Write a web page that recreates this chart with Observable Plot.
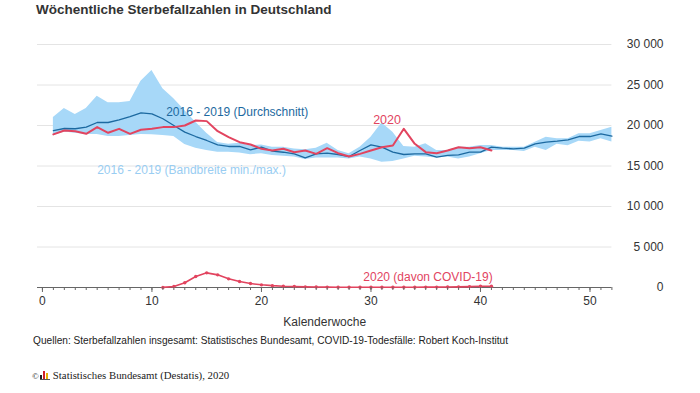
<!DOCTYPE html>
<html><head><meta charset="utf-8">
<script src="https://cdn.jsdelivr.net/npm/d3@7"></script>
<script src="https://cdn.jsdelivr.net/npm/@observablehq/plot@0.6"></script>
<style>
body{margin:0;background:#fff;font-family:"Liberation Sans",Arial,sans-serif;}
#wrap{position:relative;width:700px;height:393px;overflow:hidden;background:#fff}
#title{position:absolute;left:36px;top:2px;font-size:13.5px;font-weight:bold;color:#333;line-height:16px;white-space:nowrap}
#chart{position:absolute;left:0;top:0}
#source{position:absolute;left:33px;top:334px;font-size:10.15px;color:#222;white-space:nowrap;line-height:13px}
#copy{position:absolute;left:32px;top:369px;font-family:"Liberation Serif","Times New Roman",serif;font-size:10.8px;color:#222;white-space:nowrap;line-height:13px}
.logo{display:inline-block;width:10px;height:9px;position:relative;vertical-align:-1px;margin:0 3px 0 1px}
.logo i{position:absolute;bottom:0;width:2px}
</style></head><body>
<div id="wrap">
<div id="title">Wöchentliche Sterbefallzahlen in Deutschland</div>
<div id="chart"></div>
<div id="source">Quellen: Sterbefallzahlen insgesamt: Statistisches Bundesamt, COVID-19-Todesfälle: Robert Koch-Institut</div>
<div id="copy"><span style="font-size:9px">©</span><span class="logo"><i style="left:0;height:5px;background:#222"></i><i style="left:3px;height:9px;background:#d0202a"></i><i style="left:6px;height:7px;background:#e8b000"></i><i style="left:0;bottom:0;width:10px;height:1px;background:#555"></i></span>Statistisches Bundesamt (Destatis), 2020</div>
</div>
<script>
// Kalenderwochen
const weeks = [1,2,3,4,5,6,7,8,9,10,11,12,13,14,15,16,17,18,19,20,21,22,23,24,25,26,27,28,29,30,31,32,33,34,35,36,37,38,39,40,41,42,43,44,45,46,47,48,49,50,51,52];
// 2016 - 2019 Durchschnitt
const avg = [19380,19630,19600,19800,20370,20370,20700,21100,21560,21440,20830,20000,19180,18640,18150,17610,17410,17410,17000,17320,16830,16700,16500,16010,16500,16600,16420,16170,16910,17610,17320,16710,16420,16500,16500,16090,16300,16380,16710,16710,17320,17200,17120,17200,17740,17940,18060,18230,18640,18640,18970,18680];
// 2016 - 2019 Minimum
const minV = [18770,19200,19050,18900,18900,18640,18640,18770,18900,18850,18770,18640,17650,17200,16900,16700,16700,16600,16400,16500,16300,16200,16100,15800,16000,16000,16000,15850,16100,15850,15450,15550,15850,16200,16100,16000,16100,15850,16100,16500,16900,16900,16900,16800,17300,16900,17700,17500,18050,17950,18350,17950];
// 2016 - 2019 Maximum
const maxV = [21000,22100,21350,22100,23600,22800,22800,22950,25470,26800,24550,23300,21850,20400,19050,17900,17700,17800,17500,17600,17300,17300,17100,17000,17200,17800,16900,16500,17300,18560,20300,19180,17400,17320,17740,16910,16910,17320,17300,17530,17530,17320,17320,17320,17940,18560,18350,18350,18970,18970,19380,19790];
// 2020 (Wochen 1 - 41)
const weeks2020 = [1,2,3,4,5,6,7,8,9,10,11,12,13,14,15,16,17,18,19,20,21,22,23,24,25,26,27,28,29,30,31,32,33,34,35,36,37,38,39,40,41];
const deaths2020 = [18900,19380,19300,18970,19800,19100,19590,18970,19470,19590,19800,19800,20000,20620,20540,19300,18560,17940,17650,17120,16910,17120,16700,16910,16500,17200,16580,16170,16500,16910,17320,17530,19590,17740,16710,16580,16910,17320,17200,17320,16910];
// 2020 davon COVID-19 (Wochen 11 - 41)
const weeksCovid = [11,12,13,14,15,16,17,18,19,20,21,22,23,24,25,26,27,28,29,30,31,32,33,34,35,36,37,38,39,40,41];
const covid = [10,120,580,1360,1810,1560,1070,740,490,330,230,160,120,80,60,50,40,40,30,30,30,30,40,40,50,50,60,80,110,150,160];
// Achsen
const yTicks = [0,5000,10000,15000,20000,25000,30000];
const yTickLabels = ["0","5 000","10 000","15 000","20 000","25 000","30 000"];
const xMajor = [0,10,20,30,40,50];
const xMinor = [0,1,2,3,4,5,6,7,8,9,10,11,12,13,14,15,16,17,18,19,20,21,22,23,24,25,26,27,28,29,30,31,32,33,34,35,36,37,38,39,40,41,42,43,44,45,46,47,48,49,50,51,52];
const xDomain = [-0.45, 52];

const band = weeks.map((w,i)=>({week:w, min:minV[i], max:maxV[i], avg:avg[i]}));
const d2020 = weeks2020.map((w,i)=>({week:w, v:deaths2020[i]}));
const dCovid = weeksCovid.map((w,i)=>({week:w, v:covid[i]}));
const yt = yTicks.map((t,i)=>({t, label:yTickLabels[i]}));

const RED = "#e2445f", BLUE = "#1c69a0", BAND = "#a7d8f8", LIGHT = "#99cdf2";

const plot = Plot.plot({
  width: 700, height: 330,
  marginTop: 44, marginBottom: 43, marginLeft: 37, marginRight: 88.6,
  style: {fontFamily: '"Liberation Sans", Arial, sans-serif', fontSize: "12px", color: "#333", background: "transparent"},
  x: {domain: xDomain},
  y: {domain: [0, 30000], axis: null},
  marks: [
    Plot.ruleY(yTicks.filter(t => t > 0), {x1: xDomain[0], x2: xDomain[1], stroke: "#e4e4e4", strokeWidth: 1}),
    Plot.areaY(band, {x: "week", y1: "min", y2: "max", fill: BAND, curve: "linear"}),
    Plot.lineY(band, {x: "week", y: "avg", stroke: BLUE, strokeWidth: 1.3}),
    Plot.lineY(d2020, {x: "week", y: "v", stroke: RED, strokeWidth: 2}),
    Plot.ruleY([0], {x1: xDomain[0], x2: xDomain[1], stroke: "#666", strokeWidth: 1}),
    Plot.lineY(dCovid, {x: "week", y: "v", stroke: RED, strokeWidth: 1.6}),
    Plot.dot(dCovid, {x: "week", y: "v", r: 1.7, fill: RED}),
    Plot.axisX({ticks: xMinor, tickSize: 3, tickFormat: () => "", stroke: "#666", label: null}),
    Plot.axisX({ticks: xMajor, tickSize: 5, tickPadding: 4, stroke: "#666", fill: "#333", tickFormat: d => String(d),
      label: "Kalenderwoche", labelAnchor: "center", labelOffset: 38, labelArrow: "none"}),
    Plot.text(yt, {x: xDomain[1], y: "t", text: "label", dx: 51.6, textAnchor: "end", fill: "#333", fontSize: 12}),
    Plot.text(["2016 - 2019 (Durchschnitt)"], {x: [11.3], y: [21700], text: d => d, textAnchor: "start", fill: BLUE, fontSize: 12}),
    Plot.text(["2016 - 2019 (Bandbreite min./max.)"], {x: [5.0], y: [14440], text: d => d, textAnchor: "start", fill: LIGHT, fontSize: 12}),
    Plot.text(["2020"], {x: [30.2], y: [20740], text: d => d, textAnchor: "start", fill: RED, fontSize: 12.5}),
    Plot.text(["2020 (davon COVID-19)"], {x: [29.3], y: [1230], text: d => d, textAnchor: "start", fill: RED, fontSize: 12})
  ]
});
document.getElementById("chart").appendChild(plot);
</script>
</body></html>
